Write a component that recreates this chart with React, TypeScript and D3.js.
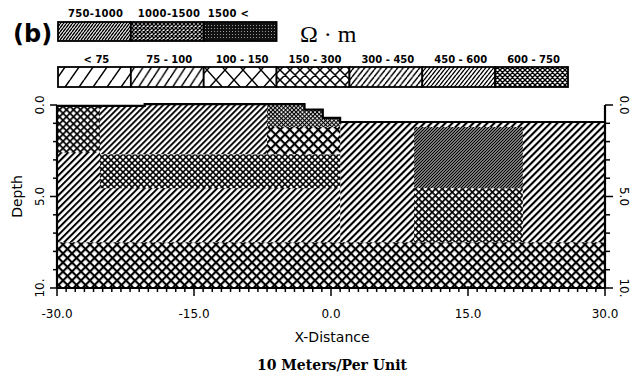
import React from "react";
import * as d3 from "d3";

const W = 636;
const H = 376;

// Legend classes (ohm-m)
const legendTop = ["750-1000", "1000-1500", "1500 <"];
const legendTopPat = ["L750", "L1000", "L1500"];
const legendBottom = ["< 75", "75 - 100", "100 - 150", "150 - 300", "300 - 450", "450 - 600", "600 - 750"];
const legendBottomPat = ["L0", "L75", "L100", "L150", "L300", "L450", "L600"];

// Axis ticks
const xTicks = [-30, -15, 0, 15, 30];
const xTickLabels = ["-30.0", "-15.0", "0.0", "15.0", "30.0"];
const yTicks = [0, 5, 10];
const yTickLabels = ["0.0", "5.0", "10."];

// Surface topography (step after): x break, depth
const surfX = [-30, -20.4, -2.9, -0.9, 1.0, 30];
const surfDepth = [0.05, -0.05, 0.25, 0.7, 0.93, 0.93];

// Model blocks (drawn in order)
const blockX0 = [1, -30, -25.3, -30, -7, -7, -25.3, 9.1, 9.1, -30];
const blockX1 = [30, 1, -7, -25.3, 1, 1, 1, 21.0, 21.0, 30];
const blockTop = [-1, -1, -1, -1, -1, 1.2, 2.7, 1.2, 4.55, 7.5];
const blockBottom = [7.5, 7.5, 2.7, 2.6, 1.2, 2.7, 4.55, 4.55, 7.5, 10];
const blockPat = ["Pd7", "Pd7b", "Pd6", "Px7", "Px4", "Px9", "Px6", "Pd3", "Px7b", "Px9b"];

// rotated hatch: p = perpendicular spacing, lw = line width
function rhatch(id: string, p: number, lw: number, cross: boolean, ox = 0) {
  return (
    <pattern key={id} id={id} width={p} height={p} patternUnits="userSpaceOnUse" patternTransform={`rotate(45) translate(${ox},0)`}>
      <rect width={p} height={p} fill="#fff" />
      <rect x={0} y={0} width={lw} height={p} fill="#000" />
      {cross && <rect x={0} y={0} width={p} height={lw} fill="#000" />}
    </pattern>
  );
}

function hatch(id: string, s: number, h: number, cross: boolean, sw: number) {
  let d = "";
  for (let k = -1; k <= 1; k++) {
    d += `M${k * s},${h} L${(k + 1) * s},0 `;
    if (cross) d += `M${k * s},0 L${(k + 1) * s},${h} `;
  }
  return (
    <pattern key={id} id={id} width={s} height={h} patternUnits="userSpaceOnUse">
      <rect width={s} height={h} fill="#fff" />
      <path d={d} stroke="#000" strokeWidth={sw} fill="none" />
    </pattern>
  );
}

export default function App() {
  const x = d3.scaleLinear().domain([-30, 30]).range([57, 605]);
  const y = d3.scaleLinear().domain([0, 10]).range([105, 288]);
  const lx = d3.scaleLinear().domain([0, 7]).range([58, 568]);

  const surfPts: [number, number][] = surfX.map((v, i) => [v, surfDepth[i]]);
  const surfLine = d3
    .line<[number, number]>()
    .x((p) => x(p[0]))
    .y((p) => y(p[1]))
    .curve(d3.curveStepAfter);
  const surfPath = surfLine(surfPts) || "";
  const clipPath = surfPath + ` L${x(30)},${y(10)} L${x(-30)},${y(10)} Z`;

  const minorX = d3.range(-30, 31, 1);
  const minorY = d3.range(0, 11, 1);

  const font = "'DejaVu Sans', sans-serif";
  const r2 = Math.SQRT2;

  return (
    <svg width={W} height={H} style={{ position: "absolute", left: 0, top: 0, background: "#fff" }}>
      <defs>
        {/* plot patterns */}
        {rhatch("Pd7", 7 / r2, 2.1, false)}
        {rhatch("Pd7b", 6.6 / r2, 2.0, false, 1)}
        {rhatch("Pd6", 6 / r2, 1.9, false, 2)}
        {rhatch("Pd3", 3 / r2, 1.45, false)}
        {rhatch("Px7", 7 / r2, 1.7, true)}
        {rhatch("Px4", 4.2 / r2, 1.15, true)}
        {rhatch("Px9", 9.5 / r2, 2.1, true)}
        {rhatch("Px9b", 9 / r2, 2.1, true)}
        {rhatch("Px6", 6 / r2, 1.6, true)}
        {rhatch("Px7b", 6.7 / r2, 1.7, true)}
        {/* legend patterns */}
        {hatch("L0", 14, 20, false, 1.5)}
        {hatch("L75", 8.5, 13, false, 1.5)}
        {hatch("L100", 18, 20, true, 1.5)}
        {hatch("L150", 10, 10, true, 1.5)}
        {hatch("L300", 5.5, 7, false, 1.4)}
        {hatch("L450", 4, 5, false, 1.4)}
        {hatch("L600", 5, 5, true, 1.4)}
        {hatch("L750", 3, 4, false, 1.4)}
        {hatch("L1000", 4, 4, true, 1.4)}
        <pattern id="L1500" width={3} height={3} patternUnits="userSpaceOnUse">
          <rect width={3} height={3} fill="#111" />
          <rect x={1} y={1} width={1} height={1} fill="#999" />
        </pattern>
        <clipPath id="surfClip">
          <path d={clipPath} />
        </clipPath>
      </defs>

      {/* (b) and units */}
      <text x={13} y={42} fontFamily={font} fontWeight="bold" fontSize={24}>(b)</text>
      <text x={300} y={42} fontFamily="'Liberation Serif', serif" fontSize={24}>Ω · m</text>

      {/* top legend */}
      {legendTop.map((t, i) => (
        <g key={t}>
          <rect x={lx(i)} y={22} width={lx(i + 1) - lx(i)} height={19} fill={`url(#${legendTopPat[i]})`} stroke="#000" strokeWidth={1.8} />
          <text x={lx(i) + 10 - i * 3} y={17} fontFamily={font} fontWeight="bold" fontSize={10} letterSpacing={0.3}>{t}</text>
        </g>
      ))}
      {/* bottom legend */}
      {legendBottom.map((t, i) => (
        <g key={t}>
          <rect x={lx(i)} y={67} width={lx(i + 1) - lx(i)} height={20} fill={`url(#${legendBottomPat[i]})`} stroke="#000" strokeWidth={1.8} />
          <text x={(lx(i) + lx(i + 1)) / 2 + 2} y={63} textAnchor="middle" fontFamily={font} fontWeight="bold" fontSize={10}>{t}</text>
        </g>
      ))}

      {/* model */}
      <g clipPath="url(#surfClip)">
        {blockPat.map((p, i) => (
          <rect
            key={i}
            x={x(blockX0[i])}
            y={y(blockTop[i])}
            width={x(blockX1[i]) - x(blockX0[i])}
            height={y(blockBottom[i]) - y(blockTop[i])}
            fill={`url(#${p})`}
          />
        ))}
      </g>
      <path d={surfPath} fill="none" stroke="#000" strokeWidth={2.2} />

      {/* axes lines */}
      <line x1={x(-30)} x2={x(30)} y1={y(10)} y2={y(10)} stroke="#000" strokeWidth={2.2} />
      <line x1={x(-30)} x2={x(-30)} y1={y(0)} y2={y(10)} stroke="#000" strokeWidth={2.2} />
      <line x1={x(30)} x2={x(30)} y1={y(0)} y2={y(10)} stroke="#000" strokeWidth={2.2} />

      {/* bottom ticks */}
      {minorX.map((v) => {
        const major = v % 15 === 0;
        return <line key={"bx" + v} x1={x(v)} x2={x(v)} y1={y(10) - (major ? 2 : 0)} y2={y(10) + (major ? 8 : 4)} stroke="#000" strokeWidth={1.5} />;
      })}
      {/* left / right ticks */}
      {minorY.map((v) => {
        const major = v % 5 === 0;
        return (
          <g key={"ty" + v}>
            <line x1={x(-30) - (major ? 7 : 4)} x2={x(-30)} y1={y(v)} y2={y(v)} stroke="#000" strokeWidth={1.5} />
            <line x1={x(30)} x2={x(30) + (major ? 8 : 5)} y1={y(v)} y2={y(v)} stroke="#000" strokeWidth={1.5} />
          </g>
        );
      })}

      {/* x tick labels */}
      {xTicks.map((v, i) => (
        <text key={"xl" + v} x={x(v)} y={318} textAnchor="middle" fontFamily={font} fontSize={12}>{xTickLabels[i]}</text>
      ))}
      {/* y tick labels left (rotated -90) and right (rotated 90) */}
      {yTicks.map((v, i) => (
        <g key={"yl" + v}>
          <text transform={`translate(44,${y(v)}) rotate(-90)`} textAnchor="middle" fontFamily={font} fontSize={12}>{yTickLabels[i]}</text>
          <text transform={`translate(620,${y(v)}) rotate(90)`} textAnchor="middle" fontFamily={font} fontSize={12}>{yTickLabels[i]}</text>
        </g>
      ))}

      <text transform={`translate(22,${y(5)}) rotate(-90)`} textAnchor="middle" fontFamily={font} fontSize={14}>Depth</text>
      <text x={332} y={342} textAnchor="middle" fontFamily={font} fontSize={14}>X-Distance</text>
      <text x={332} y={370} textAnchor="middle" fontFamily="'DejaVu Serif', serif" fontWeight="bold" fontSize={14}>10 Meters/Per Unit</text>
    </svg>
  );
}
